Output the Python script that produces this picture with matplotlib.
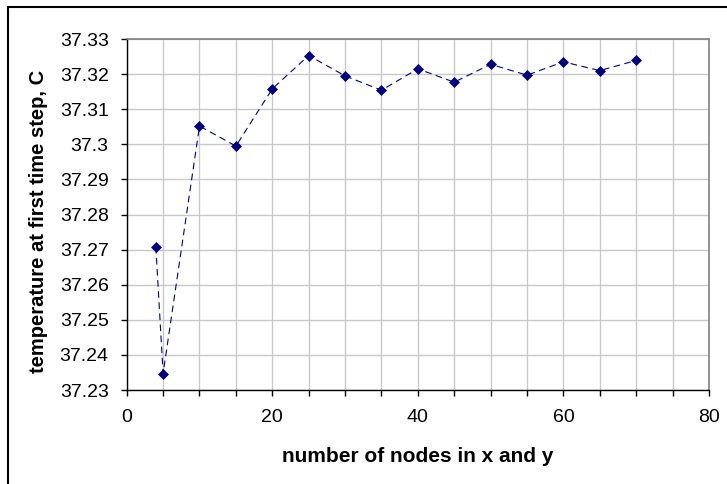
import numpy as np
import matplotlib.pyplot as plt
from matplotlib.patches import Rectangle
from matplotlib.ticker import MultipleLocator

# values
nodes = [4, 5, 10, 15, 20, 25, 30, 35, 40, 45, 50, 55, 60, 65, 70]
temp = [37.2708, 37.2347, 37.3052, 37.2995, 37.3158, 37.3253, 37.3195,
        37.3154, 37.3215, 37.3177, 37.3228, 37.3197, 37.3235, 37.3210, 37.3239]

y_ticks = [37.23, 37.24, 37.25, 37.26, 37.27, 37.28, 37.29, 37.30, 37.31, 37.32, 37.33]
y_tick_labels = ['37.23', '37.24', '37.25', '37.26', '37.27', '37.28',
                 '37.29', '37.3', '37.31', '37.32', '37.33']
x_ticks = [0, 20, 40, 60, 80]

plt.rcParams['font.family'] = ['Liberation Sans', 'DejaVu Sans']

fig = plt.figure(figsize=(7.27, 4.84), dpi=100, facecolor='white')
ax = fig.add_axes([0.1743, 0.1942, 0.8009, 0.7252])

# plot 세팅
ax.plot(nodes, temp, color='#000080', linewidth=0.8, linestyle=(0, (6, 4)),
        marker='D', markersize=5, markerfacecolor='#000080',
        markeredgecolor='#000080', markeredgewidth=0.5, zorder=3)

ax.set_xlim(0, 80)
ax.set_ylim(37.23, 37.33)
ax.set_xticks(x_ticks)
ax.xaxis.set_minor_locator(MultipleLocator(5))
ax.set_yticks(y_ticks)
ax.set_yticklabels(y_tick_labels)

ax.grid(True, which='both', color='#c8c8c8', linewidth=1.0)
ax.set_axisbelow(True)

ax.tick_params(axis='both', which='major', direction='out', length=4, width=1,
               labelsize=14, color='black')
ax.tick_params(axis='x', which='minor', direction='out', length=4, width=1)
ax.tick_params(axis='y', pad=9)
ax.tick_params(axis='x', pad=10)

for s in ['top', 'right']:
    ax.spines[s].set_color('#808080')
    ax.spines[s].set_linewidth(1.2)
for s in ['left', 'bottom']:
    ax.spines[s].set_color('black')
    ax.spines[s].set_linewidth(1.0)

fig.text(418 / 727, 1 - 462 / 484, 'number of nodes in x and y',
         ha='center', va='baseline', fontsize=15, fontweight='bold')
fig.text(39 / 727, 1 - 221 / 484, 'temperature at first time step, C',
         ha='center', va='center', rotation=90, fontsize=14.5, fontweight='bold')

# outer chart border
fig.patches.append(Rectangle((8 / 727, -0.1), 1.2, 1.1 - 7 / 484,
                             transform=fig.transFigure, fill=False,
                             edgecolor='black', linewidth=1.5))

fig.savefig('out.png', dpi=100, facecolor='white')
